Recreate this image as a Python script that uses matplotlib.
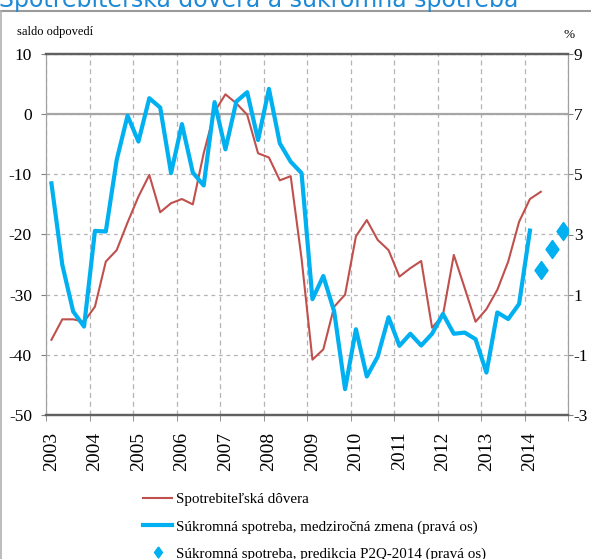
import numpy as np
import matplotlib
matplotlib.use("Agg")
import matplotlib.pyplot as plt
from matplotlib.lines import Line2D

plt.rcParams["axes.unicode_minus"] = False

# quarterly data 2003Q1 .. 2014Q4
years = [str(y) for y in range(2003, 2015)]

# Spotrebiteľská dôvera (saldo odpovedí), 2003Q1 - 2014Q2
dovera = [-37.5, -34.1, -34.1, -34.5, -32.0, -24.5, -22.6, -18.0, -13.7, -10.1,
          -16.3, -14.8, -14.1, -15.0, -6.5, 0.4, 3.3, 1.8, -0.1, -6.5,
          -7.2, -11.0, -10.3, -24.0, -40.8, -39.1, -32.0, -30.0, -20.3, -17.6,
          -20.9, -22.6, -27.0, -25.6, -24.4, -35.5, -33.4, -23.4, -28.9, -34.5,
          -32.4, -29.2, -24.5, -17.9, -14.1, -12.9]

# Súkromná spotreba, medziročná zmena (%), 2003Q1 - 2014Q1
spotreba = [4.70, 1.99, 0.44, -0.06, 3.12, 3.10, 5.48, 6.95, 6.09, 7.53,
            7.22, 5.04, 6.67, 5.06, 4.63, 7.40, 5.83, 7.42, 7.73, 6.14,
            7.84, 6.03, 5.42, 5.04, 0.85, 1.62, 0.44, -2.14, -0.15, -1.72,
            -1.06, 0.25, -0.70, -0.30, -0.69, -0.30, 0.36, -0.30, -0.26, -0.48,
            -1.59, 0.41, 0.19, 0.69, 3.13]

# predikcia P2Q-2014, 2014Q2 - 2014Q4
predikcia = [1.82, 2.52, 3.13]

red = "#C0504D"
blue = "#00B0F0"
grid_c = "#B4B4B4"
serif = ["Liberation Serif", "DejaVu Serif"]

fig = plt.figure(figsize=(5.91, 5.59), dpi=100)
ax = fig.add_axes([46 / 591, 1 - 415 / 559, 522 / 591, 361 / 559])
ax2 = ax.twinx()

x_dov = np.arange(len(dovera)) + 0.5
x_spo = np.arange(len(spotreba)) + 0.5
x_pred = np.arange(len(spotreba), len(spotreba) + len(predikcia)) + 0.5

l1, = ax.plot(x_dov, dovera, color=red, lw=1.5, zorder=3)
l2, = ax2.plot(x_spo, spotreba, color=blue, lw=3.0, zorder=4)
diamond = [(0, 1), (0.72, 0), (0, -1), (-0.72, 0), (0, 1)]
l3, = ax2.plot(x_pred, predikcia, ls="none", marker=diamond, ms=13,
               color=blue, mec=blue, zorder=4)

ax.set_xlim(0, 48)
ax.set_ylim(-50, 10)
ax2.set_ylim(-3, 9)
ax.set_yticks(np.arange(-50, 11, 10))
ax2.set_yticks(np.arange(-3, 10, 2))

# year labels on first quarter, ticks/grid on year boundaries
ax.set_xticks(np.arange(0, 48, 4) + 0.5)
ax.set_xticklabels(years, rotation=90, fontsize=14, family=serif)
ax.set_xticks(np.arange(0, 49, 4), minor=True)
ax.tick_params(axis="x", which="major", length=0, pad=12)
ax.tick_params(axis="x", which="minor", length=4, color="#808080", direction="out")
ax.xaxis.grid(True, which="minor", ls=(0, (4, 3)), color=grid_c, lw=0.9)
ax.yaxis.grid(True, ls=(0, (3, 3)), color=grid_c, lw=0.9)
ax.axhline(0, color="#A6A6A6", lw=1.6, zorder=2)
ax.set_axisbelow(True)

for lab in ax.get_yticklabels() + ax2.get_yticklabels():
    lab.set_family(serif)
    lab.set_fontsize(12.5)
ax.tick_params(axis="y", length=3.6, color="#808080", pad=6.5)
ax2.tick_params(axis="y", length=3.6, color="#808080", pad=0.5)

for a in (ax, ax2):
    a.spines["left"].set_color("#A0A0A0")
    a.spines["right"].set_color("#A0A0A0")
    a.spines["top"].set_color("#606060")
    a.spines["top"].set_linewidth(1.6)
    a.spines["bottom"].set_color("#606060")
    a.spines["bottom"].set_linewidth(1.6)

fig.text(17 / 591, 1 - 35 / 559, "saldo odpovedí", family=serif, fontsize=9)
fig.text(563 / 591, 1 - 38 / 559, "%", family=serif, fontsize=9.5)

# title cut by the top of the picture, and the slide frame
fig.text(-1 / 591, 1 - 7 / 559, "Spotrebiteľská dôvera a súkromná spotreba",
         fontsize=17, color="#1E8AD6", va="baseline", ha="left")
fig.add_artist(Line2D([1 / 591, 1], [1 - 10.5 / 559] * 2, color="#9A9A9A",
                      lw=1.5, transform=fig.transFigure))
fig.add_artist(Line2D([1 / 591] * 2, [0, 1 - 10.5 / 559], color="#B0B0B0",
                      lw=1.2, transform=fig.transFigure))

leg_diamond = Line2D([], [], ls="none", marker=diamond, ms=8, color=blue)
fig.legend([l1, l2, leg_diamond],
           ["Spotrebiteľská dôvera",
            "Súkromná spotreba, medziročná zmena (pravá os)",
            "Súkromná spotreba, predikcia P2Q-2014 (pravá os)"],
           loc="upper left", bbox_to_anchor=(143 / 591, 1 - 493 / 559),
           frameon=False, prop={"family": serif, "size": 10.8},
           handlelength=1.95, handletextpad=0.25, labelspacing=0.9,
           borderpad=0, borderaxespad=0)

fig.savefig("out.png", dpi=100)
